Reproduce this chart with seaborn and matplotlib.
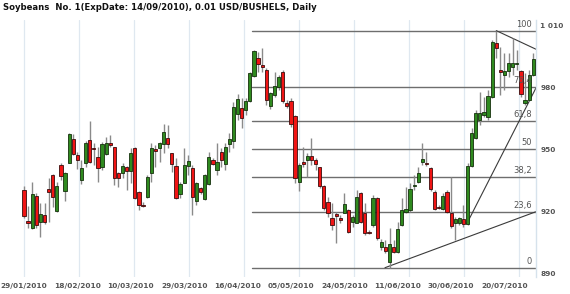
import numpy as np
import pandas as pd
import matplotlib
matplotlib.use("Agg")
import matplotlib.pyplot as plt
import seaborn as sns

# ---------------- data ----------------
opens = [930.3, 915.0, 911.8, 927.6, 915.0, 918.2, 930.8, 937.4, 920.0, 942.4,
         930.0, 943.5, 955.0, 947.2, 935.1, 943.5, 954.5, 950.8, 946.1, 941.6,
         947.7, 952.9, 951.0, 938.7, 938.4, 941.3, 939.5, 950.5, 929.5, 922.9,
         926.8, 938.4, 949.7, 950.8, 952.4, 955.3, 948.1, 941.9, 928.4, 933.8,
         941.9, 941.1, 925.1, 931.1, 925.8, 933.1, 944.8, 940.0, 948.5, 942.7,
         952.6, 954.0, 966.9, 970.1, 969.0, 973.5, 985.6, 994.3, 990.3, 988.4,
         970.9, 976.3, 980.0, 987.5, 972.3, 973.5, 966.1, 934.3, 943.6, 944.8,
         946.8, 944.8, 941.3, 932.2, 924.7, 916.9, 918.2, 916.3, 919.3, 920.6,
         915.0, 914.5, 929.0, 919.3, 909.7, 913.4, 926.3, 902.9, 902.7, 895.6,
         902.9, 900.5, 913.4, 919.8, 920.6, 932.4, 934.3, 943.7, 943.4, 940.8,
         929.5, 922.0, 921.0, 929.5, 919.0, 914.2, 914.5, 916.1, 913.9, 942.1,
         955.3, 964.2, 966.6, 965.5, 975.2, 1001.3, 988.4, 985.9, 988.0, 989.7,
         991.3, 988.0, 972.3, 973.9, 985.9]
highs = [932.2, 922.6, 934.0, 928.9, 924.0, 924.2, 936.0, 938.0, 934.3, 943.2,
         939.2, 957.7, 957.4, 948.8, 944.8, 954.0, 963.8, 952.9, 951.3, 953.7,
         956.1, 956.9, 951.3, 939.2, 943.2, 941.9, 950.5, 951.3, 930.0, 924.7,
         937.6, 952.9, 952.1, 953.7, 962.1, 961.8, 948.2, 945.6, 934.3, 950.8,
         947.2, 942.4, 934.3, 931.9, 937.9, 948.8, 945.6, 952.9, 950.5, 952.9,
         957.7, 973.0, 976.6, 974.7, 975.0, 987.5, 998.0, 997.2, 998.9, 989.2,
         977.9, 987.4, 985.9, 988.4, 973.9, 974.7, 966.6, 943.2, 951.3, 948.1,
         955.3, 945.6, 941.6, 932.7, 927.1, 923.9, 919.8, 918.2, 929.0, 921.0,
         918.2, 930.3, 929.5, 923.9, 911.0, 927.9, 927.1, 906.5, 906.1, 911.8,
         906.1, 914.8, 926.4, 931.9, 933.6, 937.6, 941.6, 952.9, 948.8, 941.6,
         930.3, 923.1, 928.7, 930.3, 936.8, 917.4, 917.4, 923.1, 943.2, 960.2,
         969.0, 977.9, 975.4, 978.7, 1002.9, 1007.4, 999.6, 996.4, 996.4, 1003.7,
         998.0, 988.4, 986.8, 988.4, 996.5]
lows = [916.8, 911.9, 911.3, 911.9, 907.7, 913.9, 915.0, 922.2, 919.8, 935.1,
        925.1, 943.2, 947.2, 940.3, 933.1, 941.4, 943.2, 942.4, 934.3, 940.0,
        947.2, 951.3, 932.7, 931.6, 936.0, 930.3, 933.6, 925.8, 920.6, 922.2,
        926.3, 934.3, 941.6, 944.0, 948.1, 950.5, 939.2, 926.0, 926.3, 933.6,
        937.6, 918.2, 923.1, 928.2, 925.5, 932.7, 942.4, 937.6, 941.6, 940.0,
        948.8, 950.5, 964.2, 960.4, 966.6, 973.0, 985.1, 987.5, 987.5, 971.4,
        969.5, 975.3, 978.7, 972.3, 969.8, 960.6, 933.6, 930.0, 941.6, 936.8,
        942.4, 940.0, 931.2, 920.6, 917.4, 911.0, 904.5, 914.2, 919.0, 909.4,
        912.6, 914.2, 914.5, 908.5, 909.0, 912.6, 906.1, 901.3, 899.8, 892.7,
        899.8, 899.8, 912.9, 919.0, 919.8, 930.3, 933.6, 942.4, 942.1, 930.0,
        920.6, 921.1, 920.6, 919.0, 911.8, 906.1, 913.4, 912.6, 913.4, 941.6,
        955.0, 961.8, 965.8, 964.2, 974.7, 994.0, 976.3, 978.7, 985.1, 985.9,
        988.4, 975.4, 971.4, 973.5, 985.5]
closes = [917.7, 914.5, 928.2, 913.2, 918.7, 915.0, 929.2, 926.8, 932.2, 937.1,
          938.4, 957.4, 947.7, 944.8, 940.8, 952.9, 943.9, 950.1, 940.8, 952.4,
          953.2, 951.9, 936.0, 936.0, 941.9, 939.5, 948.4, 926.3, 923.1, 922.6,
          936.8, 950.5, 949.4, 952.9, 958.2, 952.4, 942.7, 926.3, 933.1, 942.4,
          944.3, 927.1, 933.6, 929.2, 937.6, 946.4, 942.7, 944.0, 944.7, 951.0,
          954.8, 970.3, 974.2, 965.3, 973.4, 986.8, 997.7, 991.1, 990.2, 973.9,
          977.1, 980.6, 984.8, 973.5, 971.1, 962.2, 936.0, 942.4, 943.3, 946.8,
          944.8, 942.7, 932.0, 921.5, 919.0, 913.4, 918.1, 916.1, 923.5, 910.1,
          917.4, 926.8, 915.0, 909.4, 909.5, 926.3, 906.9, 905.3, 900.8, 904.2,
          900.5, 911.3, 920.6, 921.0, 930.6, 932.6, 938.7, 945.2, 943.1, 930.6,
          921.0, 921.9, 927.4, 919.8, 912.9, 916.1, 916.6, 913.9, 942.1, 958.0,
          967.4, 967.7, 968.2, 975.8, 1002.1, 998.9, 987.3, 988.0, 991.6, 991.9,
          991.9, 976.8, 973.9, 985.9, 993.7]

date_labels = ["29/01/2010", "18/02/2010", "10/03/2010", "29/03/2010", "16/04/2010",
               "05/05/2010", "24/05/2010", "11/06/2010", "30/06/2010", "20/07/2010"]
bars_per_label = 13

y_ticks = [890, 920, 950, 980, 1010]
y_tick_labels = ["890", "920", "950", "980", "1 010"]

fib_pcts = [0, 23.6, 38.2, 50, 61.8, 76.4, 100]
fib_texts = ["0", "23,6", "38,2", "50", "61,8", "76,4", "100"]
fib_start_bar = 56

# trend lines (bar index, price)
trend1_x, trend1_y = [87.9, 124.67], [892.7, 919.8]
trend2_x, trend2_y = [107.8, 124.67], [913.9, 979.7]
trend3_x, trend3_y = [115.0, 124.67], [1007.4, 998.4]

title = "Soybeans  No. 1(ExpDate: 14/09/2010), 0.01 USD/BUSHELS, Daily"

# ---------------- figure ----------------
sns.set_theme(style="white")
plt.rcParams["font.family"] = ["DejaVu Sans"]

df = pd.DataFrame({"open": opens, "high": highs, "low": lows, "close": closes})
df["idx"] = np.arange(len(df))
df["up"] = df["close"] >= df["open"]

fig = plt.figure(figsize=(5.70, 2.94), dpi=100)
ax = fig.add_axes([0.0, 17 / 294, 536 / 570, 257 / 294])

x_min, x_max = -5.84, 124.67
y_min, y_max = 888.2, 1012.55
ax.set_xlim(x_min, x_max)
ax.set_ylim(y_min, y_max)

# vertical grid lines (evenly spaced in the reference)
grid_step = 13.39
grid_pos = [grid_step * k for k in range(10)]
for gx in grid_pos:
    ax.axvline(gx, color="#dfe8f0", lw=0.9, zorder=0)

# fibonacci levels
lo, hi = min(lows), max(highs)
for pct, txt in zip(fib_pcts, fib_texts):
    lvl = lo + (hi - lo) * pct / 100.0
    ax.plot([fib_start_bar - 0.5, x_max], [lvl, lvl], color="#6e6e6e", lw=1.0, zorder=1)
    ax.annotate(txt, xy=(x_max, lvl), xytext=(-3, 1.5), textcoords="offset points",
                ha="right", va="bottom", fontsize=6.0, color="#555555", zorder=5)

# trend lines
for tx, ty in [(trend1_x, trend1_y), (trend2_x, trend2_y), (trend3_x, trend3_y)]:
    sns.lineplot(x=tx, y=ty, ax=ax, color="#3a3a3a", lw=0.8, zorder=2, sort=False)

# candles
ax.vlines(df["idx"], df["low"], df["high"], color="#8a8a8a", lw=1.0, zorder=3)
body_lo = np.minimum(df["open"], df["close"])
body_h = np.abs(df["close"] - df["open"])
min_h = 0.7
body_lo = np.where(body_h < min_h, (df["open"] + df["close"]) / 2 - min_h / 2, body_lo)
body_h = np.maximum(body_h, min_h)
face = np.where(df["up"], "#2f8a1f", "#f01414")
edge = np.where(df["up"], "#15300c", "#3a0c0c")
ax.bar(df["idx"], body_h, bottom=body_lo, width=0.78, color=face, edgecolor=edge,
       linewidth=0.6, zorder=4)

# axes styling
ax.set_xticks([bars_per_label * k for k in range(len(date_labels))])
ax.set_xticklabels(date_labels)
ax.yaxis.tick_right()
ax.set_yticks(y_ticks)
ax.set_yticklabels(y_tick_labels)
ax.tick_params(axis="x", length=0, pad=4.5, labelsize=5.3, labelcolor="#555555")
ax.tick_params(axis="y", length=0, pad=3, labelsize=5.3, labelcolor="#555555")
for lab in ax.get_xticklabels() + ax.get_yticklabels():
    lab.set_fontweight("bold")
for s in ["top", "left", "bottom"]:
    ax.spines[s].set_visible(False)
ax.spines["right"].set_color("#d6e2ec")
ax.spines["right"].set_linewidth(1.0)
ax.set_xlabel("")
ax.set_ylabel("")
ax.grid(False)

fig.text(3 / 570, 1 - 8 / 294, title, ha="left", va="center", fontsize=6.1,
         fontweight="bold", color="#111111")

fig.savefig("out.png", dpi=100)
